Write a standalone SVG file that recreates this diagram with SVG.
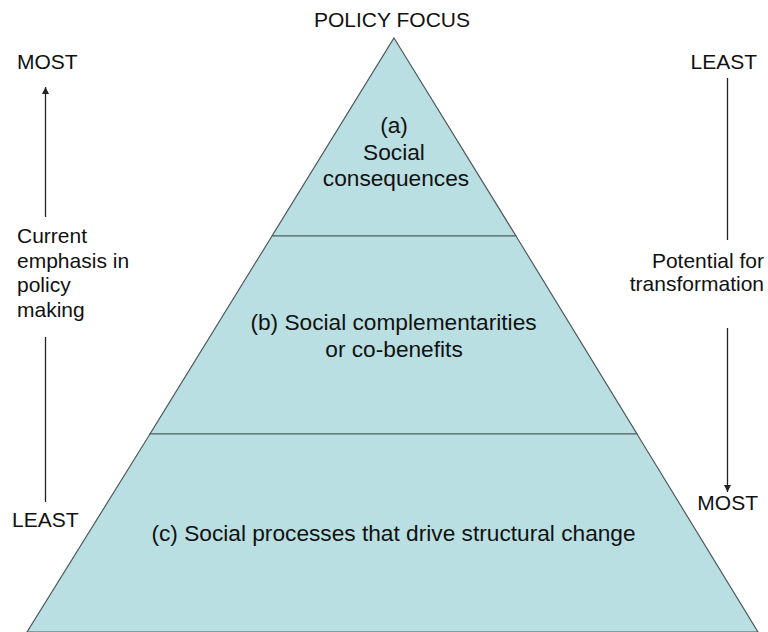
<svg xmlns="http://www.w3.org/2000/svg" width="768" height="632" viewBox="0 0 768 632">
<style>
text{font-family:"Liberation Sans",Arial,sans-serif;font-size:21px;fill:#111}
.p{font-size:22.7px}
.c{text-anchor:middle}
.r{text-anchor:end}
.tier{fill:#b9dfe2;stroke:#4f5a5c;stroke-width:1.2}
.ax{stroke:#222;stroke-width:1.3;fill:none}
</style>
<defs>
<marker id="ah" viewBox="0 0 10 10" refX="10" refY="5" markerWidth="8" markerHeight="7" markerUnits="userSpaceOnUse" orient="auto">
<path d="M0,0 L10,5 L0,10 z" fill="#222"/>
</marker>
</defs>
<rect width="768" height="632" fill="#fff"/>
<text class="c" x="392" y="27">POLICY FOCUS</text>
<g id="tier-a">
<polygon class="tier" points="394,38 516,236 272,236"/>
<text class="c p" x="394" y="133">(a)</text>
<text class="c p" x="394" y="160">Social</text>
<text class="c p" x="396" y="186">consequences</text>
</g>
<g id="tier-b">
<polygon class="tier" points="272,236 516,236 637,434 150,434"/>
<text class="c p" x="393.5" y="330">(b) Social complementarities</text>
<text class="c p" x="394" y="357">or co-benefits</text>
</g>
<g id="tier-c">
<polygon class="tier" points="150,434 637,434 758,632 27,632"/>
<text class="c p" x="393.5" y="541">(c) Social processes that drive structural change</text>
</g>
<g id="left-axis">
<text x="17" y="69">MOST</text>
<text x="17" y="243">Current</text>
<text x="17" y="267.5">emphasis in</text>
<text x="17" y="292">policy</text>
<text x="17" y="316.5">making</text>
<text x="12" y="527">LEAST</text>
</g>
<g id="right-axis">
<text class="r" x="757" y="69">LEAST</text>
<text class="r" x="764" y="268">Potential for</text>
<text class="r" x="764" y="291">transformation</text>
<text class="r" x="758" y="510">MOST</text>
</g>
<g id="connectors">
<line class="ax" x1="45.5" y1="217" x2="45.5" y2="87" marker-end="url(#ah)"/>
<line class="ax" x1="45.5" y1="337" x2="45.5" y2="502"/>
<line class="ax" x1="727.5" y1="78" x2="727.5" y2="240"/>
<line class="ax" x1="727.5" y1="328" x2="727.5" y2="492" marker-end="url(#ah)"/>
</g>
</svg>
